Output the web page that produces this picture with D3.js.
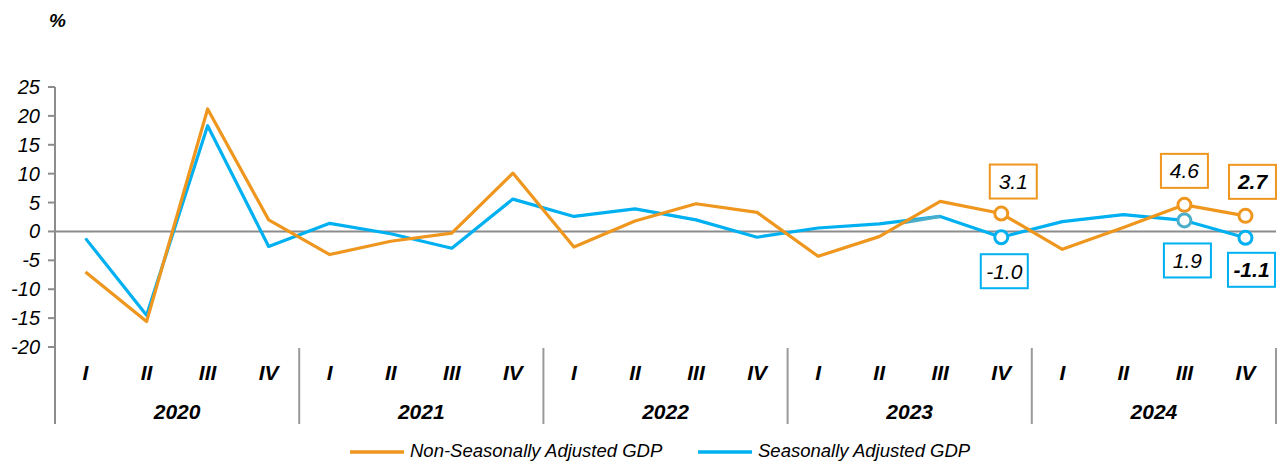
<!DOCTYPE html>
<html>
<head>
    <title>GDP growth</title>
    <style>
        body { margin: 0; background: #fff; font-family: "Liberation Sans", Arial, sans-serif; }
        svg { display: block; }
        .lbl { font-style: italic; fill: #000; }
    </style>
</head>
<body>
    <svg id="chart" width="1281" height="461"></svg>
    <script src="https://d3js.org/d3.v7.min.js"></script>
    <script>
        // Data
        const years = ["2020", "2021", "2022", "2023", "2024"];
        const quarters = ["I", "II", "III", "IV"];
        const nsaGdp = [-7.0, -15.6, 21.2, 2.0, -4.0, -1.7, -0.3, 10.1, -2.7, 1.8, 4.8, 3.3, -4.3, -0.9, 5.2, 3.1, -3.1, 0.7, 4.6, 2.7];
        const saGdp = [-1.2, -14.5, 18.3, -2.6, 1.4, -0.4, -2.9, 5.6, 2.6, 3.9, 2.0, -1.0, 0.6, 1.3, 2.6, -1.0, 1.7, 2.9, 1.9, -1.1];
        const yTicks = [-20, -15, -10, -5, 0, 5, 10, 15, 20, 25];
        const seriesNames = ["Non-Seasonally Adjusted GDP", "Seasonally Adjusted GDP"];
        const labelledPoints = [15, 18, 19];

        const orange = "#EE961E";
        const blue = "#00B0F0";
        const grey = "#8C8C8C";

        const svg = d3.select("#chart");

        // Scales
        const periods = [];
        years.forEach(y => quarters.forEach(q => periods.push(y + "-" + q)));
        const x = d3.scaleBand().domain(periods).range([55, 1276]);
        const cx = i => x(periods[i]) + x.bandwidth() / 2;
        const y = d3.scaleLinear().domain([-20, 25]).range([347, 87]);

        // Y axis
        svg.append("line")
            .attr("x1", 55).attr("x2", 55).attr("y1", y(25)).attr("y2", 424)
            .attr("stroke", grey).attr("stroke-width", 2);
        svg.append("g").selectAll("line").data(yTicks).enter().append("line")
            .attr("x1", 48).attr("x2", 55)
            .attr("y1", d => y(d)).attr("y2", d => y(d))
            .attr("stroke", grey).attr("stroke-width", 2);
        svg.append("g").selectAll("text").data(yTicks).enter().append("text")
            .attr("class", "lbl")
            .attr("x", 40).attr("y", d => y(d) + 7)
            .attr("text-anchor", "end")
            .attr("font-size", 20)
            .text(d => d);

        svg.append("text").attr("class", "lbl")
            .attr("x", 49).attr("y", 27)
            .attr("font-size", 19).attr("font-weight", "bold")
            .text("%");

        // Zero line
        svg.append("line")
            .attr("x1", 55).attr("x2", 1276).attr("y1", y(0)).attr("y2", y(0))
            .attr("stroke", grey).attr("stroke-width", 2);

        // Year separators
        const yearBand = d3.scaleBand().domain(years).range([55, 1276]);
        svg.append("g").selectAll("line").data(years).enter().append("line")
            .attr("x1", d => yearBand(d) + yearBand.bandwidth())
            .attr("x2", d => yearBand(d) + yearBand.bandwidth())
            .attr("y1", 348).attr("y2", 424)
            .attr("stroke", "#9a9a9a").attr("stroke-width", 2);

        // Category labels
        svg.append("g").selectAll("text").data(periods).enter().append("text")
            .attr("class", "lbl")
            .attr("x", d => x(d) + x.bandwidth() / 2).attr("y", 380)
            .attr("text-anchor", "middle")
            .attr("font-size", 21).attr("font-weight", "bold")
            .text(d => d.split("-")[1]);
        svg.append("g").selectAll("text").data(years).enter().append("text")
            .attr("class", "lbl")
            .attr("x", d => yearBand(d) + yearBand.bandwidth() / 2).attr("y", 419)
            .attr("text-anchor", "middle")
            .attr("font-size", 21).attr("font-weight", "bold")
            .text(d => d);

        // Lines
        const line = d3.line().x((d, i) => cx(i)).y(d => y(d));
        svg.append("path").datum(saGdp)
            .attr("d", line).attr("fill", "none")
            .attr("stroke", blue).attr("stroke-width", 3.2).attr("stroke-linejoin", "round");
        // slightly duller overlap segment seen in the original
        svg.append("line")
            .attr("x1", cx(13) + 20).attr("y1", y(saGdp[13]) - 0.5)
            .attr("x2", cx(14)).attr("y2", y(saGdp[14]))
            .attr("stroke", "#4AAECB").attr("stroke-width", 3.2);
        svg.append("path").datum(nsaGdp)
            .attr("d", line).attr("fill", "none")
            .attr("stroke", orange).attr("stroke-width", 3.2).attr("stroke-linejoin", "round");

        // Markers
        svg.append("g").selectAll("circle").data(labelledPoints).enter().append("circle")
            .attr("cx", d => cx(d)).attr("cy", d => y(nsaGdp[d])).attr("r", 6.5)
            .attr("fill", "#fff").attr("stroke", orange).attr("stroke-width", 3);
        svg.append("g").selectAll("circle").data(labelledPoints).enter().append("circle")
            .attr("cx", d => cx(d)).attr("cy", d => y(saGdp[d])).attr("r", 6.5)
            .attr("fill", "#fff").attr("stroke", (d, i) => i === 1 ? "#4AAECB" : blue).attr("stroke-width", 3);

        // Value boxes: offsets from the point (layout only)
        const boxes = [
            {s: nsaGdp, idx: 15, dx: 12, dy: -32, col: orange, bold: false},
            {s: nsaGdp, idx: 18, dx: 0, dy: -34, col: orange, bold: false},
            {s: nsaGdp, idx: 19, dx: 7, dy: -34, col: orange, bold: true},
            {s: saGdp, idx: 15, dx: 3, dy: 34, col: blue, bold: false},
            {s: saGdp, idx: 18, dx: 3, dy: 40, col: blue, bold: false},
            {s: saGdp, idx: 19, dx: 6, dy: 32, col: blue, bold: true}
        ];
        const bw = 47, bh = 34;
        const bg = svg.append("g").selectAll("g").data(boxes).enter().append("g")
            .attr("transform", d => `translate(${cx(d.idx) + d.dx},${y(d.s[d.idx]) + d.dy})`);
        bg.append("rect")
            .attr("x", -bw / 2).attr("y", -bh / 2).attr("width", bw).attr("height", bh)
            .attr("fill", "#fff").attr("stroke", d => d.col).attr("stroke-width", 2);
        bg.append("text").attr("class", "lbl")
            .attr("x", 0).attr("y", 7.5)
            .attr("text-anchor", "middle")
            .attr("font-size", 21)
            .attr("font-weight", d => d.bold ? "bold" : "normal")
            .text(d => d.s[d.idx].toFixed(1));

        // Legend
        const legend = [
            {name: seriesNames[0], col: orange, x: 350},
            {name: seriesNames[1], col: blue, x: 698}
        ];
        const lg = svg.append("g").selectAll("g").data(legend).enter().append("g")
            .attr("transform", d => `translate(${d.x},452)`);
        lg.append("line").attr("x1", 0).attr("x2", 54).attr("y1", 0).attr("y2", 0)
            .attr("stroke", d => d.col).attr("stroke-width", 3.5);
        lg.append("text").attr("class", "lbl")
            .attr("x", 60).attr("y", 5)
            .attr("font-size", 18.5)
            .text(d => d.name);
    </script>
</body>
</html>
